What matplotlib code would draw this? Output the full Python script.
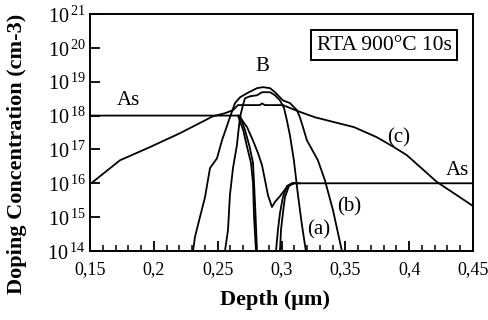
import numpy as np
import matplotlib
matplotlib.use('Agg')
import matplotlib.pyplot as plt
from matplotlib.ticker import FixedLocator, LogLocator, NullFormatter, MultipleLocator

plt.rcParams['font.family'] = ['Liberation Serif', 'DejaVu Serif']
plt.rcParams['mathtext.fontset'] = 'custom'
plt.rcParams['mathtext.rm'] = 'Liberation Serif'

# depth in um, log10 of the concentration in cm-3

# wide profile (c)
c_x = [0.1523, 0.1735, 0.197, 0.2205, 0.2463, 0.2557, 0.262, 0.2659, 0.2831, 0.2847,
       0.2870, 0.3011, 0.3129, 0.3262, 0.3419, 0.3567, 0.3747, 0.388, 0.3982, 0.4217, 0.45]
c_log = [16.04, 16.68, 17.07, 17.48, 17.98, 18.07, 18.16, 18.31, 18.31, 18.36,
         18.31, 18.31, 18.13, 17.95, 17.8, 17.66, 17.36, 17.07, 16.83, 16.04, 15.33]

# B profile (b), the wider one
b_x = [0.2307, 0.2322, 0.2361, 0.2401, 0.244, 0.2495, 0.2534, 0.2596, 0.2636, 0.2675,
       0.273, 0.2808, 0.2855, 0.291, 0.2949, 0.3011, 0.3066, 0.3121, 0.3144, 0.3168,
       0.3199, 0.3285, 0.334, 0.3403, 0.3473]
b_log = [14.0, 14.41, 15.0, 15.59, 16.45, 16.74, 17.27, 17.95, 18.37, 18.54,
         18.66, 18.81, 18.84, 18.81, 18.69, 18.45, 18.37, 18.16, 17.95, 17.66,
         17.27, 16.68, 16.09, 15.21, 14.0]

# B profile (a), the narrower one
a_x = [0.2557, 0.2581, 0.2596, 0.262, 0.2651, 0.2659, 0.2675, 0.2698, 0.2714, 0.2753,
       0.2808, 0.2847, 0.291, 0.2949, 0.2988, 0.302, 0.3042, 0.3066, 0.3097, 0.3129,
       0.316, 0.3191]
a_log = [14.0, 14.62, 15.65, 16.45, 17.13, 17.42, 17.95, 18.31, 18.51, 18.57,
         18.6, 18.69, 18.69, 18.6, 18.45, 18.22, 17.86, 17.42, 16.68, 15.65,
         14.77, 14.0]

# As box at 1e18 (two traces)
as1_x = [0.15, 0.2675, 0.2714, 0.275, 0.2777, 0.2785, 0.2795, 0.2808]
as1_log = [18.0, 18.0, 17.57, 17.08, 16.6, 16.0, 15.2, 14.0]
as2_x = [0.2659, 0.27, 0.273, 0.2761, 0.2777, 0.2785, 0.28]
as2_log = [18.0, 17.57, 17.08, 16.6, 16.0, 15.0, 14.0]

# As at 1e16 on the right (two traces)
as3_x = [0.2957, 0.2972, 0.2988, 0.3011, 0.3043, 0.3082, 0.45]
as3_log = [14.0, 14.62, 15.12, 15.59, 15.92, 16.0, 16.0]
as4_x = [0.2988, 0.2996, 0.3011, 0.3027, 0.3058, 0.3097]
as4_log = [14.0, 14.62, 15.12, 15.59, 15.92, 16.0]

# dip curve
v_x = [0.2675, 0.273, 0.2776, 0.2816, 0.2847, 0.2871, 0.2894, 0.2925, 0.2949, 0.2988,
       0.3043, 0.3082, 0.3144]
v_log = [17.95, 17.66, 17.27, 16.89, 16.54, 16.09, 15.65, 15.3, 15.45, 15.62,
         15.89, 16.0, 16.0]

x_ticks = [0.15, 0.2, 0.25, 0.3, 0.35, 0.4, 0.45]
x_labels = ['0,15', '0,2', '0,25', '0,3', '0,35', '0,4', '0,45']
y_decades = [14, 15, 16, 17, 18, 19, 20, 21]

fig = plt.figure(figsize=(4.88, 3.2), dpi=100)
ax = fig.add_axes([0.1844, 0.2156, 0.7849, 0.7406])

for xs, ls in [(c_x, c_log), (b_x, b_log), (a_x, a_log), (as1_x, as1_log),
               (as2_x, as2_log), (as3_x, as3_log), (as4_x, as4_log), (v_x, v_log)]:
    ax.plot(xs, 10 ** np.array(ls), color='black', lw=1.3)

ax.set_yscale('log')
ax.set_xlim(0.15, 0.45)
ax.set_ylim(1e14, 1e21)

ax.xaxis.set_major_locator(FixedLocator(x_ticks))
ax.set_xticklabels(x_labels)
ax.xaxis.set_minor_locator(MultipleLocator(0.01))
ax.yaxis.set_major_locator(FixedLocator([10.0 ** d for d in y_decades]))
ax.set_yticklabels([r'$10^{\,%d}$' % d for d in y_decades])
ax.yaxis.set_minor_locator(LogLocator(base=10, subs=np.arange(2, 10)))
ax.yaxis.set_minor_formatter(NullFormatter())

ax.tick_params(which='major', direction='in', length=7, width=1.3, labelsize=13,
               top=False, right=False)
ax.tick_params(which='minor', direction='in', length=4.5, width=1.1,
               top=False, right=False)
ax.tick_params(axis='x', which='major', pad=7)
ax.tick_params(axis='y', which='major', labelsize=14.5, pad=3)
for s in ax.spines.values():
    s.set_linewidth(1.4)

ax.set_xlabel('Depth (\u03bcm)', fontsize=16, fontweight='bold')
ax.xaxis.set_label_coords(0.483, -0.165)
ax.set_ylabel('Doping Concentration (cm-3)', fontsize=16, fontweight='bold')
ax.yaxis.set_label_coords(-0.165, 0.41)

ax.text(0.1798, 10 ** 18.45, 'As', fontsize=15, ha='center', va='center')
ax.text(0.2847, 10 ** 19.46, 'B', fontsize=15, ha='center', va='center')
ax.text(0.392, 10 ** 17.33, '(c)', fontsize=15, ha='center', va='center')
ax.text(0.438, 10 ** 16.39, 'As', fontsize=15, ha='center', va='center')
ax.text(0.3528, 10 ** 15.3, '(b)', fontsize=15, ha='center', va='center')
ax.text(0.3293, 10 ** 14.62, '(a)', fontsize=15, ha='center', va='center')
ax.text(0.768, 0.869, 'RTA 900\u00b0C 10s', transform=ax.transAxes, fontsize=15.5,
        ha='center', va='center',
        bbox=dict(boxstyle='square,pad=0.25', fc='white', ec='black', lw=1.4))

fig.savefig('out.png', dpi=100)
